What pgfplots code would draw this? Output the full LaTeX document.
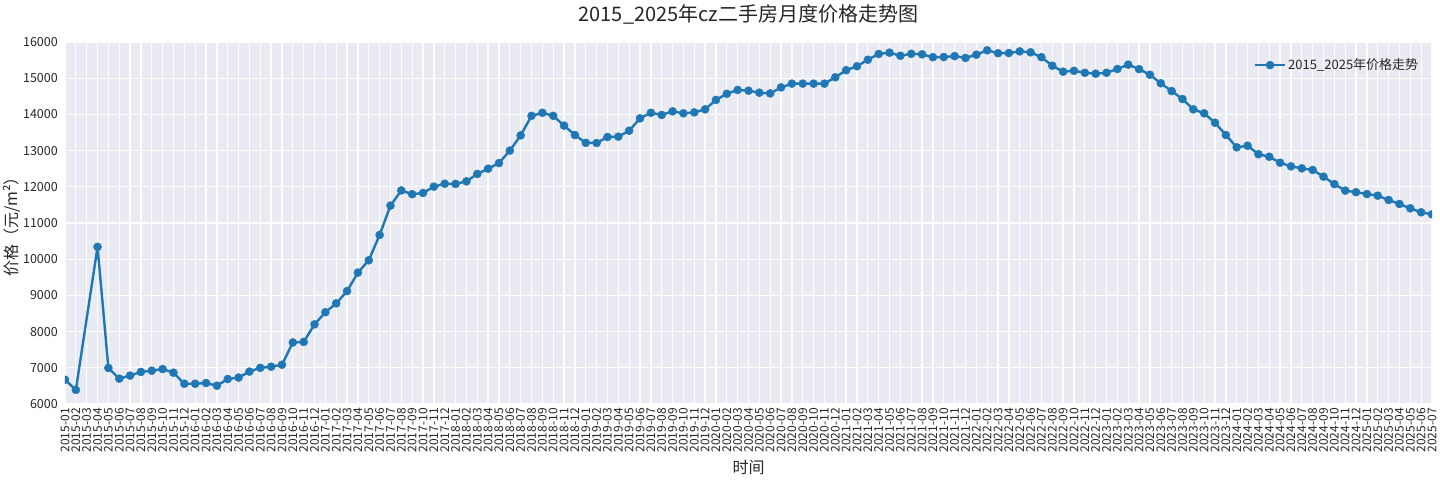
\documentclass[border=0pt]{standalone}
\usepackage{pgfplots}
\pgfplotsset{compat=1.18}
\usepackage{fontspec}
\setmainfont{Noto Sans CJK SC}
\definecolor{lineblue}{HTML}{1F77B4}
\definecolor{panel}{HTML}{EAEAF2}
\definecolor{txt}{HTML}{262626}
\begin{document}
\begin{tikzpicture}[x=1pt,y=1pt]
\useasboundingbox (0,0) rectangle (1440,480);
\begin{axis}[
    at={(65pt,76pt)}, anchor=south west,
    width=1367pt, height=362pt, scale only axis,
    xmin=0, xmax=126, ymin=6000, ymax=16000,
    xtick={0,...,126},
    ytick={6000,7000,...,16000},
    scaled y ticks=false,
    xticklabel={\pgfmathtruncatemacro{\t}{round(\tick)}\pgfmathtruncatemacro{\mo}{mod(\t,12)+1}\pgfmathtruncatemacro{\yr}{2015+(\t-\mo+1)/12}\yr-\ifnum\mo<10 0\fi\mo},
    /pgf/number format/assume math mode=true,
    /pgf/number format/1000 sep={},
    major tick length=0pt,
    xticklabel style={rotate=90, anchor=east, inner sep=0pt, font=\fontsize{12}{12}\selectfont, text=txt},
    yticklabel style={anchor=east, inner sep=0pt, font=\fontsize{12.5}{13}\selectfont, text=txt},
    xticklabel shift=4pt, yticklabel shift=7pt,
    axis background/.style={fill=panel},
    axis line style={white, line width=1.2pt},
    grid=major,
    major grid style={white, line width=1.3pt},
    title={2015\_2025年cz二手房月度价格走势图},
    title style={at={(axis description cs:0.5,1.06)}, anchor=center, font=\fontsize{20}{22}\selectfont, text=txt},
    xlabel={时间},
    xlabel style={at={(axis description cs:0.5,-0.174)}, anchor=center, font=\fontsize{16}{18}\selectfont, text=txt},
    ylabel={价格（元/m²）},
    ylabel style={at={(axis description cs:-0.039,0.5)}, anchor=center, font=\fontsize{16}{18}\selectfont, text=txt},
    clip marker paths=true,
    legend style={at={(axis description cs:0.993,0.965)}, anchor=north east, draw=none, fill=none, inner sep=2pt, font=\fontsize{13}{15}\selectfont, text=txt},
    legend cell align=left,
    legend image code/.code={\draw[#1,mark repeat=2,mark phase=2] plot coordinates {(0pt,0pt) (15pt,0pt) (30pt,0pt)};},
]
\addplot[color=lineblue, line width=2.4pt, line join=round, mark=*, mark size=4pt, mark options={solid, fill=lineblue, draw=lineblue, line width=0.5pt}]
coordinates {
(0,6670)(1,6390)(3,10340)(4,6995)(5,6700)(6,6785)(7,6885)(8,6920)(9,6965)(10,6865)
(11,6560)(12,6560)(13,6580)(14,6505)(15,6690)(16,6730)(17,6895)(18,7000)(19,7030)(20,7085)
(21,7700)(22,7715)(23,8200)(24,8535)(25,8780)(26,9120)(27,9630)(28,9970)(29,10670)(30,11480)
(31,11900)(32,11795)(33,11830)(34,12005)(35,12085)(36,12080)(37,12150)(38,12355)(39,12500)(40,12655)
(41,13000)(42,13420)(43,13960)(44,14045)(45,13960)(46,13690)(47,13430)(48,13215)(49,13210)(50,13375)
(51,13385)(52,13550)(53,13890)(54,14045)(55,13985)(56,14085)(57,14030)(58,14055)(59,14140)(60,14400)
(61,14570)(62,14675)(63,14655)(64,14600)(65,14580)(66,14745)(67,14850)(68,14850)(69,14850)(70,14850)
(71,15025)(72,15220)(73,15330)(74,15510)(75,15670)(76,15705)(77,15620)(78,15675)(79,15660)(80,15580)
(81,15585)(82,15610)(83,15560)(84,15650)(85,15770)(86,15690)(87,15695)(88,15740)(89,15715)(90,15580)
(91,15345)(92,15180)(93,15205)(94,15150)(95,15125)(96,15150)(97,15255)(98,15375)(99,15250)(100,15095)
(101,14860)(102,14645)(103,14425)(104,14140)(105,14030)(106,13770)(107,13430)(108,13090)(109,13135)(110,12900)
(111,12830)(112,12665)(113,12565)(114,12510)(115,12465)(116,12280)(117,12075)(118,11895)(119,11850)(120,11800)
(121,11755)(122,11635)(123,11525)(124,11405)(125,11295)(126,11240)
};
\addlegendentry{2015\_2025年价格走势}
\end{axis}
\end{tikzpicture}
\end{document}
